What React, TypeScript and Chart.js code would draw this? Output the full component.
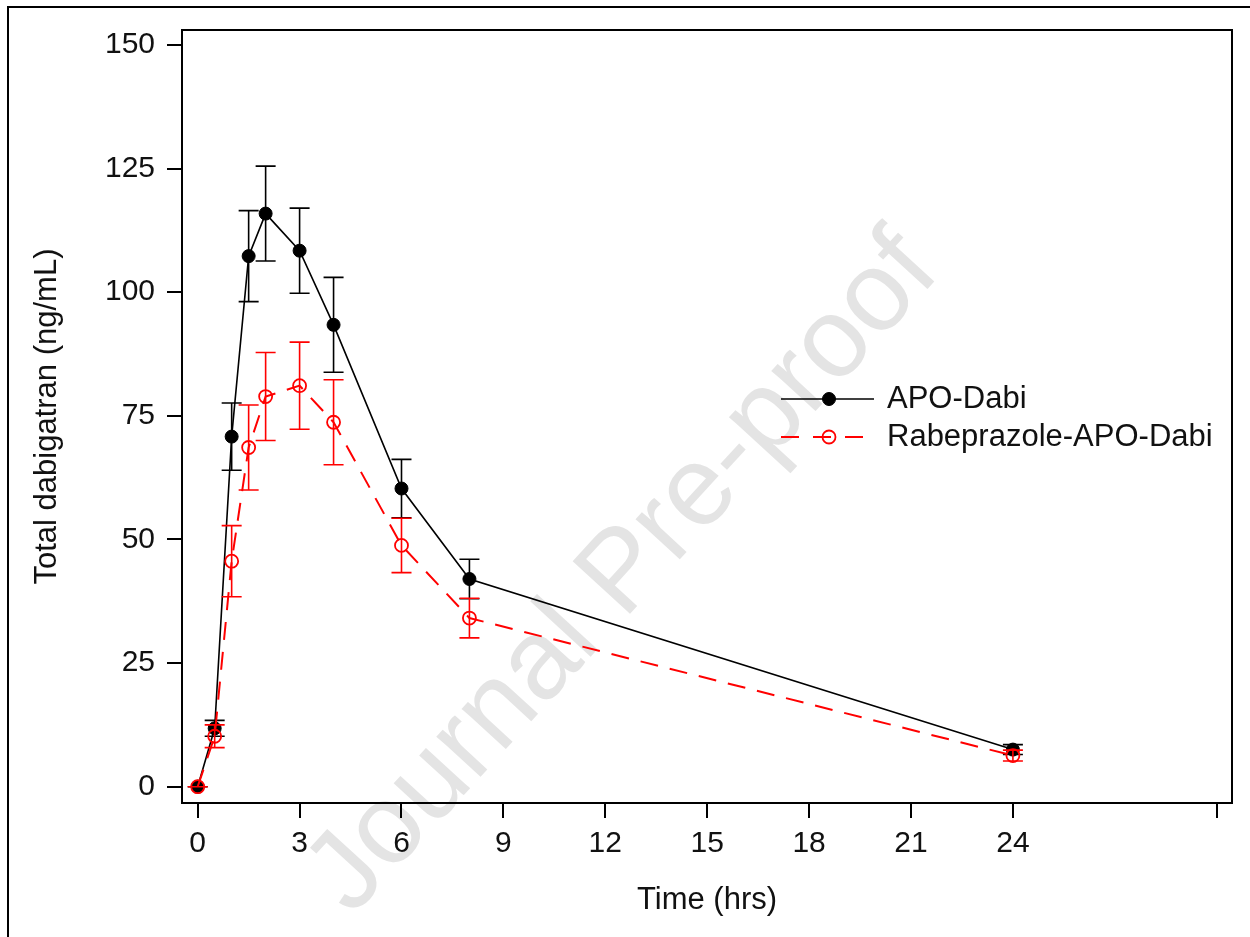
import React, { useEffect, useRef } from 'react';
import { Chart, registerables } from 'chart.js';

Chart.register(...registerables);

// ---- data ----
const timeHrs = [0, 0.5, 1, 1.5, 2, 3, 4, 6, 8, 24];
const apoMean = [0, 11.8, 70.8, 107.3, 115.9, 108.4, 93.4, 60.3, 42.0, 7.5];
const apoSD = [0, 1.6, 6.8, 9.2, 9.6, 8.6, 9.6, 5.9, 4.0, 1.0];
const rabMean = [0, 10.2, 45.6, 68.6, 78.9, 81.1, 73.7, 48.8, 34.1, 6.3];
const rabSD = [0, 2.3, 7.2, 8.6, 8.9, 8.8, 8.6, 5.5, 4.0, 1.1];
const seriesNames = ['APO-Dabi', 'Rabeprazole-APO-Dabi'];
const xTickValues = [0, 3, 6, 9, 12, 15, 18, 21, 24, 30];
const xTickLabels = ['0', '3', '6', '9', '12', '15', '18', '21', '24', ''];
const yTickValues = [0, 25, 50, 75, 100, 125, 150];
const xTitle = 'Time (hrs)';
const yTitle = 'Total dabigatran (ng/mL)';
const watermark = 'Journal Pre-proof';

const FONT = '"Liberation Sans", Arial, sans-serif';

const errorBarPlugin = {
  id: 'errorBars',
  beforeDatasetDraw(chart: any, args: any) {
    const ds = chart.data.datasets[args.index];
    const sd: number[] = ds.sd;
    if (!sd) return;
    const { ctx } = chart;
    const xs = chart.scales.x;
    const ys = chart.scales.y;
    ctx.save();
    ctx.strokeStyle = ds.borderColor;
    ctx.lineWidth = 1.6;
    ctx.setLineDash([]);
    ds.data.forEach((p: any, i: number) => {
      const px = xs.getPixelForValue(p.x);
      const yt = ys.getPixelForValue(p.y + sd[i]);
      const yb = ys.getPixelForValue(p.y - sd[i]);
      ctx.beginPath();
      ctx.moveTo(px, yt);
      ctx.lineTo(px, yb);
      ctx.moveTo(px - 10, yt);
      ctx.lineTo(px + 10, yt);
      ctx.moveTo(px - 10, yb);
      ctx.lineTo(px + 10, yb);
      ctx.stroke();
    });
    ctx.restore();
  },
};

const decorPlugin = {
  id: 'decor',
  beforeDraw(chart: any) {
    const { ctx } = chart;
    ctx.save();
    // watermark
    ctx.translate(624, 574);
    ctx.rotate((-47.5 * Math.PI) / 180);
    ctx.font = `113px ${FONT}`;
    ctx.fillStyle = 'rgb(228,228,228)';
    ctx.textAlign = 'center';
    ctx.textBaseline = 'middle';
    ctx.fillText(watermark, 0, 0);
    ctx.restore();
    // outer page frame (top + left)
    ctx.save();
    ctx.fillStyle = '#000';
    ctx.fillRect(7, 6, 1243, 2);
    ctx.fillRect(7, 6, 2, 931);
    ctx.restore();
  },
  afterDraw(chart: any) {
    const { ctx, chartArea } = chart;
    ctx.save();
    ctx.strokeStyle = '#000';
    ctx.lineWidth = 2;
    ctx.strokeRect(chartArea.left, chartArea.top, chartArea.right - chartArea.left, chartArea.bottom - chartArea.top);
    ctx.restore();

    // legend
    const ds = chart.data.datasets;
    const rows = [
      { d: ds[0], y: 399 },
      { d: ds[1], y: 437 },
    ];
    ctx.save();
    rows.forEach(({ d, y }) => {
      ctx.strokeStyle = d.borderColor;
      ctx.lineWidth = d.borderWidth;
      ctx.setLineDash(d.borderDash && d.borderDash.length ? [18, 14] : []);
      ctx.beginPath();
      ctx.moveTo(781, y);
      ctx.lineTo(874, y);
      ctx.stroke();
      ctx.setLineDash([]);
      ctx.beginPath();
      ctx.arc(829, y, d.pointRadius, 0, Math.PI * 2);
      if (d.pointBackgroundColor !== 'rgba(0,0,0,0)') {
        ctx.fillStyle = d.pointBackgroundColor;
        ctx.fill();
      }
      ctx.lineWidth = d.pointBorderWidth;
      ctx.strokeStyle = d.pointBorderColor;
      ctx.stroke();
      ctx.fillStyle = '#111';
      ctx.font = `31px ${FONT}`;
      ctx.textAlign = 'left';
      ctx.textBaseline = 'middle';
      ctx.fillText(d.label, 887, y);
    });
    ctx.restore();
  },
};

export default function App() {
  const ref = useRef<HTMLCanvasElement>(null);
  useEffect(() => {
    const chart = new Chart(ref.current as HTMLCanvasElement, {
      type: 'line',
      data: {
        datasets: [
          {
            label: seriesNames[0],
            data: timeHrs.map((t, i) => ({ x: t, y: apoMean[i] })),
            sd: apoSD,
            borderColor: '#000',
            borderWidth: 1.6,
            pointRadius: 6.5,
            pointBackgroundColor: '#000',
            pointBorderColor: '#000',
            pointBorderWidth: 1,
            borderDash: [],
            order: 1,
          } as any,
          {
            label: seriesNames[1],
            data: timeHrs.map((t, i) => ({ x: t, y: rabMean[i] })),
            sd: rabSD,
            borderColor: '#ff0000',
            borderWidth: 2,
            borderDash: [18, 12],
            pointRadius: 6.5,
            pointBackgroundColor: 'rgba(0,0,0,0)',
            pointBorderColor: '#ff0000',
            pointBorderWidth: 1.8,
            order: 0,
          } as any,
        ],
      },
      options: {
        animation: false,
        responsive: false,
        maintainAspectRatio: false,
        devicePixelRatio: 1,
        layout: { padding: { top: 30, right: 18, left: 0, bottom: 0 } },
        plugins: { legend: { display: false }, tooltip: { enabled: false } },
        elements: { line: { tension: 0 } },
        scales: {
          x: {
            type: 'linear',
            min: -0.462,
            max: 30.45,
            afterFit: (s: any) => {
              s.height = 134;
            },
            afterBuildTicks: (s: any) => {
              s.ticks = xTickValues.map((v) => ({ value: v }));
            },
            border: { display: false },
            grid: { display: true, drawOnChartArea: false, drawTicks: true, tickLength: 15, color: '#000', lineWidth: 2 },
            ticks: {
              padding: 8,
              color: '#111',
              font: { family: FONT, size: 30 },
              maxRotation: 0,
              autoSkip: false,
              callback: (v: any) => {
                const i = xTickValues.indexOf(Number(v));
                return i >= 0 ? xTickLabels[i] : '';
              },
            },
            title: {
              display: true,
              text: xTitle,
              color: '#111',
              font: { family: FONT, size: 31 },
              padding: { top: 0, bottom: 18 },
            },
          },
          y: {
            type: 'linear',
            min: -3.3,
            max: 153.03,
            afterFit: (s: any) => {
              s.width = 182;
            },
            afterBuildTicks: (s: any) => {
              s.ticks = yTickValues.map((v) => ({ value: v }));
            },
            border: { display: false },
            grid: { display: true, drawOnChartArea: false, drawTicks: true, tickLength: 15, color: '#000', lineWidth: 2 },
            ticks: {
              padding: 12,
              color: '#111',
              font: { family: FONT, size: 30 },
              autoSkip: false,
              callback: (v: any) => String(v),
            },
            title: {
              display: true,
              text: yTitle,
              color: '#111',
              font: { family: FONT, size: 31 },
              padding: { top: 29, bottom: 0 },
            },
          },
        },
      },
      plugins: [errorBarPlugin, decorPlugin],
    } as any);
    return () => chart.destroy();
  }, []);
  return (
    <div style={{ position: 'fixed', left: 0, top: 0, width: 1250, height: 937, background: '#fff' }}>
      <canvas ref={ref} width={1250} height={937} style={{ display: 'block', width: 1250, height: 937 }} />
    </div>
  );
}
